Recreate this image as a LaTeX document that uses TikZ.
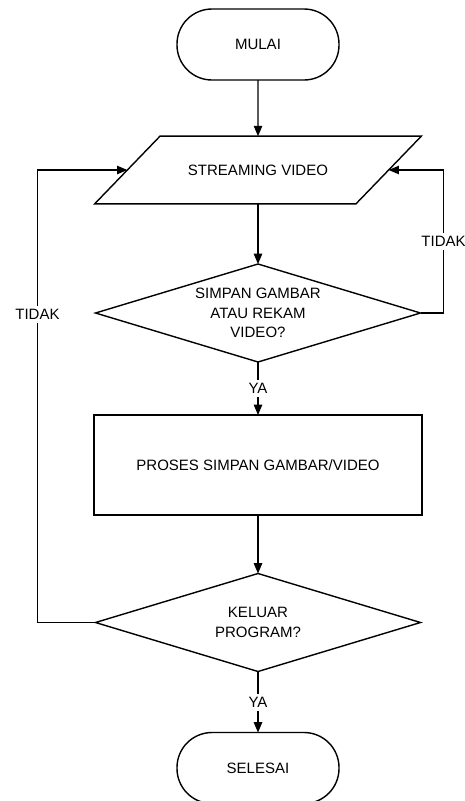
\documentclass[tikz,border=0pt]{standalone}
\usepackage{fontspec}
\setmainfont{Liberation Sans}
\usepackage{tkz-graph}
\usetikzlibrary{arrows}
\usetikzlibrary{shapes}

\begin{document}
\begin{tikzpicture}[x = 1pt, y = -1pt, font = \fontsize{15}{19.5}\selectfont]
	\useasboundingbox (0, 0) rectangle (465, 801);
	\tikzstyle{VertexStyle} = []
	\tikzstyle{EdgeStyle} = [->, >=triangle 45, line width = 1.4pt]
	\tikzstyle{LabelStyle} = []
	\tikzstyle{terminalStyle} = [shape = rectangle, rounded corners = 35pt, minimum width = 162pt, minimum height = 71pt, line width = 1.4pt, draw]
	\tikzstyle{ioStyle} = [shape = trapezium, trapezium left angle = 46, trapezium right angle = 134, inner xsep = 28pt, inner ysep = 28.5pt, line width = 1.4pt, draw]
	\tikzstyle{processStyle} = [shape = rectangle, minimum width = 328pt, minimum height = 100pt, line width = 1.4pt, draw]
	\tikzstyle{decisionStyle} = [shape = diamond, aspect = 3.3, inner sep = 0pt, minimum width = 325pt, minimum height = 98pt, align = center, line width = 1.4pt, draw]
	\Vertex[style = terminalStyle, x = 258, y = 44.5, L = {MULAI}]{start}
	\Vertex[style = ioStyle, x = 258, y = 170, L = {STREAMING VIDEO}]{stream}
	\Vertex[style = decisionStyle, x = 258, y = 313, L = {SIMPAN GAMBAR\\ATAU REKAM\\VIDEO?}]{save}
	\Vertex[style = processStyle, x = 258, y = 465, L = {PROSES SIMPAN GAMBAR/VIDEO}]{proc}
	\Vertex[style = decisionStyle, x = 258, y = 622.5, L = {KELUAR\\PROGRAM?}]{quit}
	\Vertex[style = terminalStyle, x = 258, y = 768, L = {SELESAI}]{stop}
	\Edge(start)(stream)
	\Edge(stream)(save)
	\Edge[label = {YA}, labelstyle = {fill = white, inner xsep = 8pt}](save)(proc)
	\Edge(proc)(quit)
	\Edge[label = {YA}, labelstyle = {fill = white, inner xsep = 8pt}](quit)(stop)
	\draw[EdgeStyle] (save.east) -- ++(23, 0) |- node[pos = 0.25, fill = white] {TIDAK} (stream);
	\draw[EdgeStyle] (quit.west) -- ++(-58, 0) |- node[pos = 0.34, fill = white] {TIDAK} (stream);
\end{tikzpicture}
\end{document}
